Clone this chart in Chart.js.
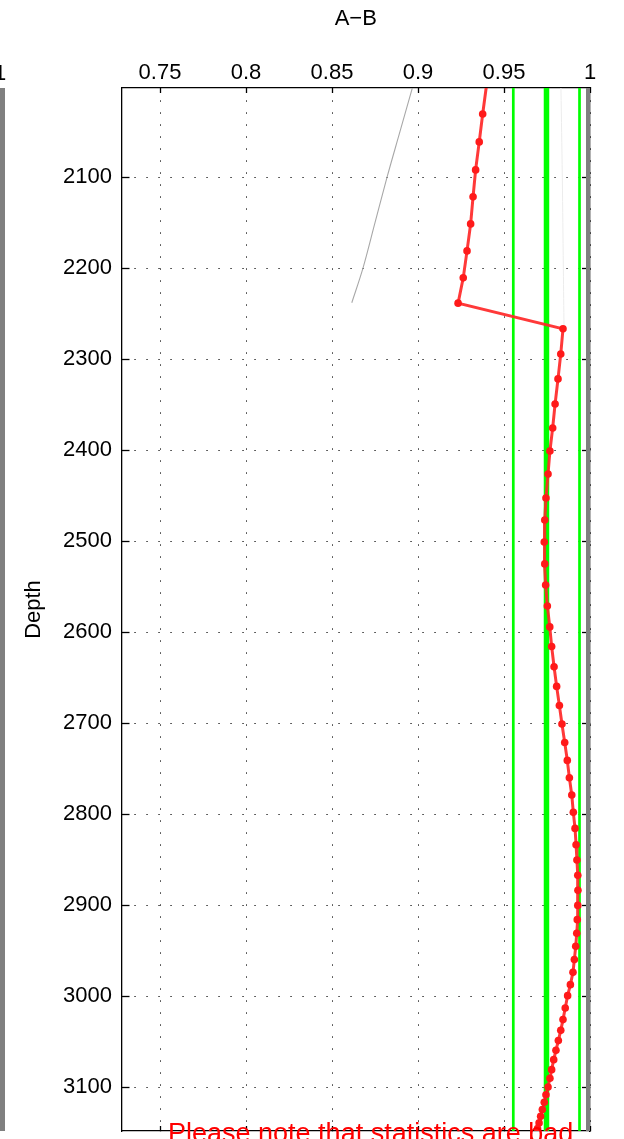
<!DOCTYPE html>
<html lang="en">

<head>
    <meta charset="UTF-8">
    <title>A-B vs Depth</title>
    <script src="https://cdn.jsdelivr.net/npm/chart.js"></script>
    <style>
        html, body { margin: 0; padding: 0; background: #fff; overflow: hidden; }
        #wrap { position: relative; width: 624px; height: 1139px; }
        .side { position: absolute; font-family: "Liberation Sans", Arial, sans-serif; }
        #prevBar { left: 0; top: 88px; width: 4.5px; height: 1043px; background: #808080; }
        #prevLabel { left: -6px; top: 62px; font-size: 22px; line-height: 22px; color: #000; }
        #note { left: 168px; top: 1120px; font-size: 27px; line-height: 27px; color: #ff0000; white-space: nowrap; }
    </style>
</head>

<body>
    <div id="wrap">
        <canvas id="abChart" width="624" height="1139"></canvas>
        <!-- edge of the neighbouring panel -->
        <div class="side" id="prevBar"></div>
        <div class="side" id="prevLabel">1</div>
        <div class="side" id="note">Please note that statistics are bad.</div>
    </div>

    <script>
        // axis limits and ticks
        const xLimits = [0.7276, 1.0];
        const depthLimits = [2002, 3148];
        const xTicks = [0.75, 0.8, 0.85, 0.9, 0.95, 1];
        const depthTicks = [2100, 2200, 2300, 2400, 2500, 2600, 2700, 2800, 2900, 3000, 3100];

        // red A-B curve
        const depthRed = [1998, 2030.5, 2061.2, 2092.0, 2121.6, 2151.3, 2181.0, 2210.6, 2238.4, 2266.6,
            2294.2, 2321.6, 2349.2, 2375.5, 2400.8, 2426.1, 2452.5, 2476.6, 2500.8, 2524.9,
            2548.0, 2571.1, 2594.1, 2615.6, 2637.9, 2659.5, 2680.4, 2700.8, 2721.1, 2740.8,
            2759.8, 2778.8, 2797.9, 2815.5, 2833.4, 2850.2, 2867.1, 2883.6, 2900.1, 2915.8,
            2930.8, 2945.1, 2959.7, 2973.7, 2987.2, 2999.3, 3012.8, 3025.6, 3037.4, 3048.7,
            3059.4, 3069.6, 3080.6, 3090.1, 3099.6, 3108.1, 3116.5, 3124.5, 3131.9, 3139.1,
            3145.4, 3153];
        const valueRed = [0.9399, 0.9376, 0.9356, 0.9335, 0.9320, 0.9306, 0.9285, 0.9263, 0.9233, 0.9843,
            0.9830, 0.9814, 0.9797, 0.9783, 0.9767, 0.9756, 0.9744, 0.9737, 0.9734, 0.9737,
            0.9742, 0.9752, 0.9766, 0.9777, 0.9791, 0.9806, 0.9822, 0.9837, 0.9853, 0.9868,
            0.9880, 0.9894, 0.9903, 0.9913, 0.9919, 0.9924, 0.9929, 0.9930, 0.9929, 0.9926,
            0.9923, 0.9917, 0.9909, 0.9901, 0.9886, 0.9870, 0.9856, 0.9843, 0.9830, 0.9816,
            0.9802, 0.9789, 0.9777, 0.9767, 0.9756, 0.9744, 0.9734, 0.9723, 0.9713, 0.9704,
            0.9695, 0.9687];

        // grey reference curve (upper section)
        const depthGrey = [2000, 2050, 2100, 2150, 2200, 2238];
        const valueGrey = [0.8970, 0.8895, 0.8820, 0.8750, 0.8680, 0.8615];

        // very faint curve near 0.984
        const depthFaint = [2002, 2100, 2200, 2266.6];
        const valueFaint = [0.9831, 0.9839, 0.9845, 0.9849];

        // statistics: lower, mean, upper
        const statValues = [0.9554, 0.9747, 0.9939];
        const limitValue = 1.0;

        const pts = (xs, ys) => xs.map((x, i) => ({ x, y: ys[i] }));
        const vline = v => depthLimits.map(d => ({ x: v, y: d }));

        Chart.defaults.font.family = '"Liberation Sans", Arial, sans-serif';
        Chart.defaults.font.size = 22;
        Chart.defaults.color = '#000';

        const setTicks = list => scale => { scale.ticks = list.map(v => ({ value: v })); };
        // fixed axis box sizes, no extra room for overhanging labels
        const fixSize = (key, size) => scale => {
            scale[key] = size;
            scale.paddingTop = scale.paddingBottom = scale.paddingLeft = scale.paddingRight = 0;
        };

        const gridStyle = {
            color: 'rgba(0,0,0,0.8)',
            lineWidth: 1,
            tickColor: '#000',
            tickWidth: 1.3
        };

        const ctx = document.getElementById('abChart').getContext('2d');
        new Chart(ctx, {
            type: 'scatter',
            data: {
                datasets: [
                    {
                        data: pts(valueRed, depthRed),
                        showLine: true,
                        borderColor: 'rgba(255,40,40,0.92)',
                        borderWidth: 3,
                        pointRadius: 3.8,
                        pointBackgroundColor: '#ff1a1a',
                        pointBorderWidth: 0,
                        clip: 0,
                        order: 0
                    },
                    {
                        data: pts(valueFaint, depthFaint),
                        showLine: true,
                        borderColor: '#ececec',
                        borderWidth: 1,
                        pointRadius: 0,
                        tension: 0.4,
                        clip: 0,
                        order: 4
                    },
                    {
                        data: pts(valueGrey, depthGrey),
                        showLine: true,
                        borderColor: '#a8a8a8',
                        borderWidth: 1.1,
                        pointRadius: 0,
                        cubicInterpolationMode: 'monotone',
                        clip: 0,
                        order: 4
                    },
                    {
                        data: vline(statValues[0]),
                        showLine: true,
                        borderColor: '#00ff00',
                        borderWidth: 2.7,
                        pointRadius: 0,
                        clip: 0,
                        order: 2
                    },
                    {
                        data: vline(statValues[1]),
                        showLine: true,
                        borderColor: '#00ff00',
                        borderWidth: 5.5,
                        pointRadius: 0,
                        clip: 0,
                        order: 2
                    },
                    {
                        data: vline(statValues[2]),
                        showLine: true,
                        borderColor: '#00ff00',
                        borderWidth: 2.7,
                        pointRadius: 0,
                        clip: 0,
                        order: 2
                    },
                    {
                        data: vline(limitValue),
                        showLine: true,
                        borderColor: '#808080',
                        borderWidth: 8,
                        pointRadius: 0,
                        clip: 0,
                        order: 1
                    }
                ]
            },
            options: {
                responsive: false,
                animation: false,
                events: [],
                layout: { padding: 0 },
                plugins: {
                    legend: { display: false },
                    tooltip: { enabled: false }
                },
                scales: {
                    x: {
                        type: 'linear',
                        position: 'top',
                        min: xLimits[0],
                        max: xLimits[1],
                        afterBuildTicks: setTicks(xTicks),
                        afterFit: fixSize('height', 88),
                        ticks: {
                            padding: 7,
                            maxRotation: 0,
                            callback: v => String(+v.toFixed(2))
                        },
                        grid: { ...gridStyle, tickLength: -5 },
                        border: { color: '#000', width: 1.3, dash: [1.5, 10.5] },
                        title: {
                            display: true,
                            text: 'A\u2212B',
                            padding: { top: 6, bottom: 0 }
                        }
                    },
                    x2: {
                        type: 'linear',
                        position: 'bottom',
                        min: xLimits[0],
                        max: xLimits[1],
                        afterBuildTicks: setTicks(xTicks),
                        afterFit: fixSize('height', 8),
                        ticks: { display: false },
                        grid: { ...gridStyle, drawOnChartArea: false, tickLength: -5 },
                        border: { color: '#000', width: 1.3 }
                    },
                    y: {
                        type: 'linear',
                        position: 'left',
                        reverse: true,
                        min: depthLimits[0],
                        max: depthLimits[1],
                        afterBuildTicks: setTicks(depthTicks),
                        afterFit: fixSize('width', 121.5),
                        ticks: { padding: 17.5, callback: v => String(v) },
                        grid: { ...gridStyle, tickLength: -8 },
                        border: { color: '#000', width: 1.3, dash: [1.5, 10.5] },
                        title: {
                            display: true,
                            text: 'Depth',
                            padding: { top: 21, bottom: 0 }
                        }
                    },
                    y2: {
                        type: 'linear',
                        position: 'right',
                        reverse: true,
                        min: depthLimits[0],
                        max: depthLimits[1],
                        afterBuildTicks: setTicks(depthTicks),
                        afterFit: fixSize('width', 34),
                        ticks: { display: false },
                        grid: { ...gridStyle, drawOnChartArea: false, tickLength: -8 },
                        border: { color: '#000', width: 1.3 }
                    }
                }
            }
        });
    </script>
</body>

</html>
